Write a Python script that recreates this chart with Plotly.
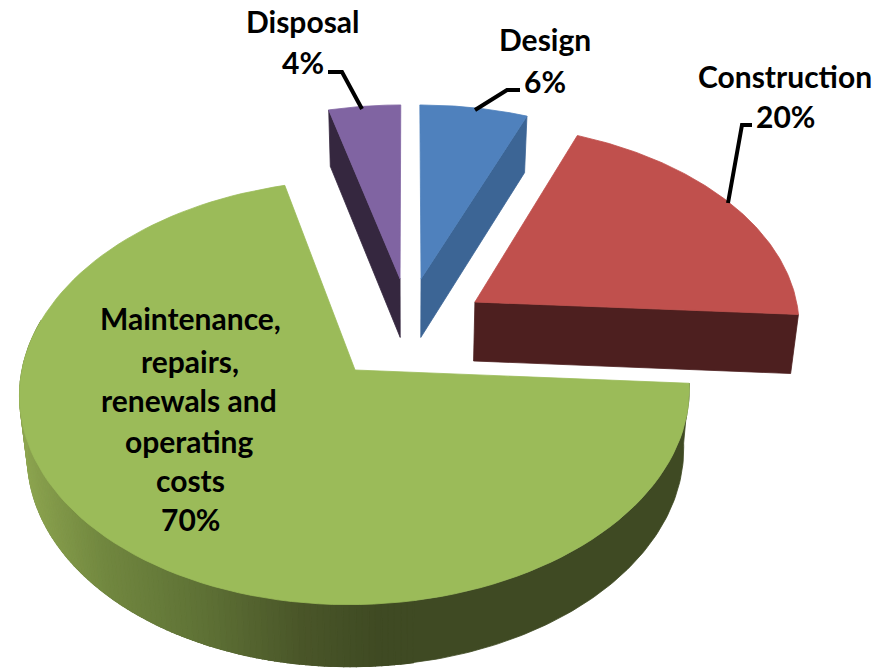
import numpy as np
import plotly.graph_objects as go

# ---- data ----
CATEGORIES = ["Design", "Construction", "Maintenance, repairs, renewals and operating costs", "Disposal"]
VALUES = [6, 20, 70, 4]

# ---- styling / layout constants ----
TOP_COLORS = ["#4f81bd", "#c0504d", "#9bbb59", "#8064a2"]
WALL_COLORS = ["#3c6595", "#4d1f1f", "#3f4a23", "#35273f"]
PULLS = [(0.041, 0.455), (0.208, 0.335), (-0.159, 0.0), (-0.025, 0.455)]
W, H = 882, 668
PX0, PY0, AX, BY, K = 408.0, 370.0, 333.0, 210.0, 0.105


def project(X, Y, low=False):
    X, Y = np.asarray(X, float), np.asarray(Y, float)
    w = 1 + K * Y
    x = AX * X / w
    y = PY0 - BY * Y / w
    if low:
        x = x * 0.98
        y = y + 59.7 - 2.3 * Y
    return PX0 + x, y


def arc(i, a0, a1, n=120):
    t = np.radians(np.linspace(a0, a1, n))
    return PULLS[i][0] + np.sin(t), PULLS[i][1] + np.cos(t)


def poly(x, y, color, name, lw=0.8):
    return go.Scatter(
        x=np.append(x, x[0]), y=np.append(y, y[0]), mode="lines", fill="toself",
        fillcolor=color, line=dict(color=color, width=lw),
        name=name, hoverinfo="name", showlegend=False,
    )


edges = np.concatenate([[0], np.cumsum(VALUES)]) / sum(VALUES) * 360.0
fig = go.Figure()


def cut_wall(i, angle):
    ox, oy = PULLS[i]
    t = np.radians(angle)
    X = np.array([ox, ox + np.sin(t)])
    Y = np.array([oy, oy + np.cos(t)])
    xt, yt = project(X, Y)
    xb, yb = project(X, Y, low=True)
    return poly(np.r_[xt, xb[::-1]], np.r_[yt, yb[::-1]], WALL_COLORS[i], CATEGORIES[i])


def top(i):
    X, Y = arc(i, edges[i], edges[i + 1])
    X = np.r_[PULLS[i][0], X]
    Y = np.r_[PULLS[i][1], Y]
    x, y = project(X, Y)
    return poly(x, y, TOP_COLORS[i], CATEGORIES[i])


def green_shade(px):
    stops_x = [20, 100, 200, 300, 380, 700]
    stops = np.array([[0x8d, 0xa5, 0x50], [0x72, 0x88, 0x40], [0x5f, 0x72, 0x36],
                      [0x4a, 0x56, 0x29], [0x3f, 0x4a, 0x23], [0x3f, 0x4a, 0x23]])
    c = [np.interp(px, stops_x, stops[:, k]) for k in range(3)]
    return "rgb(%d,%d,%d)" % tuple(c)


# Maintenance: outer wall drawn as a smooth base, then shaded strips (left part)
g = 2
X, Y = arc(g, edges[g], 284.0, 200)
xt, yt = project(X, Y)
xb, yb = project(X, Y, low=True)
fig.add_trace(poly(np.r_[xt, xb[::-1]], np.r_[yt, yb[::-1]], WALL_COLORS[g], CATEGORIES[g]))
a_grid = np.arange(170.0, 284.01, 1.0)
for a0, a1 in zip(a_grid[:-1], a_grid[1:]):
    X, Y = arc(g, a0, a1, 3)
    xt, yt = project(X, Y)
    xb, yb = project(X, Y, low=True)
    fig.add_trace(poly(np.r_[xt, xb[::-1]], np.r_[yt, yb[::-1]],
                       green_shade(xt.mean()), CATEGORIES[g], lw=1.2))
fig.add_trace(top(g))

# Construction: front cut face
fig.add_trace(cut_wall(1, edges[2]))
fig.add_trace(top(1))

# Design: right cut face
fig.add_trace(cut_wall(0, edges[1]))
fig.add_trace(top(0))

# Disposal: left cut face
fig.add_trace(cut_wall(3, edges[3]))
fig.add_trace(top(3))

FONT_W = dict(family="Lato", size=30, color="black", weight="bold")
LABELS = [
    ("Disposal", 303, 21), ("4%", 303, 62),
    ("Design", 545, 39), ("6%", 545, 81),
    ("Construction", 785, 76), ("20%", 785, 116),
    ("Maintenance,", 190, 318), ("repairs,", 190, 361), ("renewals and", 189, 400),
    ("operating", 189, 441), ("costs", 190, 480), ("70%", 190, 519),
]
annotations = [dict(x=x, y=y, text=t, showarrow=False, font=FONT_W, xanchor="center", yanchor="middle")
               for t, x, y in LABELS]

LEADERS = [
    [(328, 72), (342, 72), (362, 109)],
    [(520, 90), (507, 90), (475, 110)],
    [(752, 125), (742, 125), (728, 203)],
]
shapes = [dict(type="path", path="M " + " L ".join(f"{a},{b}" for a, b in pts),
               line=dict(color="black", width=4), layer="above") for pts in LEADERS]

fig.update_layout(
    width=W, height=H, margin=dict(l=0, r=0, t=0, b=0),
    paper_bgcolor="white", plot_bgcolor="white", showlegend=False,
    xaxis=dict(range=[0, W], visible=False, fixedrange=True),
    yaxis=dict(range=[H, 0], visible=False, fixedrange=True),
    annotations=annotations, shapes=shapes,
)
fig.write_html("out.html", config=dict(displayModeBar=False),
               post_script="document.body.style.margin='0';document.documentElement.style.overflow='hidden';")
